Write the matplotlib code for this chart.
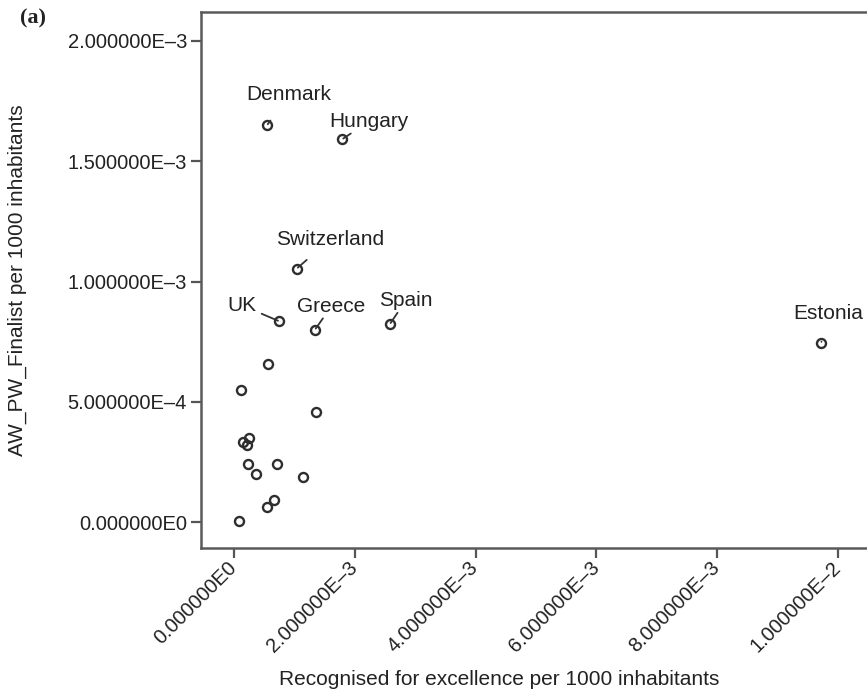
import matplotlib
matplotlib.use("Agg")
import matplotlib.pyplot as plt

plt.rcParams['font.family'] = ['Liberation Sans', 'DejaVu Sans']

# recognised for excellence per 1000 inhabitants (x) / AW_PW finalist per 1000 inhabitants (y)
x_vals = [0.546e-3, 1.79e-3, 1.04e-3, 0.75e-3, 1.34e-3, 2.58e-3, 9.72e-3,
          0.56e-3, 0.116e-3, 1.36e-3, 0.148e-3, 0.248e-3, 0.215e-3, 0.232e-3,
          0.364e-3, 0.72e-3, 1.14e-3, 0.67e-3, 0.55e-3, 0.083e-3]
y_vals = [1.649e-3, 1.591e-3, 1.054e-3, 0.835e-3, 0.80e-3, 0.823e-3, 0.744e-3,
          0.657e-3, 0.549e-3, 0.458e-3, 0.335e-3, 0.351e-3, 0.323e-3, 0.243e-3,
          0.202e-3, 0.24e-3, 0.187e-3, 0.092e-3, 0.062e-3, 0.005e-3]
names = ["Denmark", "Hungary", "Switzerland", "UK", "Greece", "Spain", "Estonia"]

xticks = [0, 2e-3, 4e-3, 6e-3, 8e-3, 10e-3]
xtick_labels = ["0.000000E0", "2.000000E\u20133", "4.000000E\u20133",
                "6.000000E\u20133", "8.000000E\u20133", "1.000000E\u20132"]
yticks = [0, 5e-4, 1e-3, 1.5e-3, 2e-3]
ytick_labels = ["0.000000E0", "5.000000E\u20134", "1.000000E\u20133",
                "1.500000E\u20133", "2.000000E\u20133"]

# label offsets in points (text centre relative to the marker) and leader gaps
label_offsets = {
    "Denmark": (16, 22), "Hungary": (19.5, 13), "Switzerland": (24, 21),
    "UK": (-27, 11.5), "Greece": (12, 17), "Spain": (11.5, 17), "Estonia": (5, 21.6),
}
leader_gap = {
    "Denmark": 12, "Hungary": 9, "Switzerland": 9,
    "UK": 2, "Greece": 13, "Spain": 12.5, "Estonia": 12,
}

fig = plt.figure(figsize=(8.67, 7.0), dpi=100)
ax = fig.add_axes([201/867, 152/700, 666/867, 536/700])

ax.plot(x_vals, y_vals, linestyle='none', marker='o', markersize=6.5,
        markerfacecolor='none', markeredgecolor='#2e2e2e', markeredgewidth=1.7)

for i, name in enumerate(names):
    ax.annotate(name, (x_vals[i], y_vals[i]), xytext=label_offsets[name],
                textcoords='offset points', ha='center', va='center',
                fontsize=15, color='#222222',
                arrowprops=dict(arrowstyle='-', color='#333333', lw=1.3,
                                shrinkA=leader_gap[name], shrinkB=1))

ax.set_xlim(-5.46e-4, 10.48e-3)
ax.set_ylim(-1.07e-4, 2.12e-3)
ax.set_xticks(xticks)
ax.set_xticklabels(xtick_labels, rotation=45, ha='right', va='center',
                   rotation_mode='anchor')
ax.set_yticks(yticks)
ax.set_yticklabels(ytick_labels)
ax.tick_params(axis='both', direction='out', length=7, width=1.6,
               color='#555555', labelsize=14.5, labelcolor='#222222', pad=3)
ax.tick_params(axis='x', pad=5)

for side in ['left', 'bottom', 'top']:
    ax.spines[side].set_color('#5a5a5a')
    ax.spines[side].set_linewidth(1.8)
ax.spines['right'].set_visible(False)

ax.set_xlabel("Recognised for excellence per 1000 inhabitants", fontsize=15, color='#222222')
ax.set_ylabel("AW_PW_Finalist per 1000 inhabitants", fontsize=15, color='#222222')
ax.xaxis.set_label_coords(0.447, -0.228)
ax.yaxis.set_label_coords(-0.262, 0.5)

fig.text(20/867, 1 - 18/700, "(a)", fontsize=16, fontweight='bold',
         family='Liberation Serif', ha='left', va='center', color='#222222')

fig.savefig("out.png", dpi=100)
